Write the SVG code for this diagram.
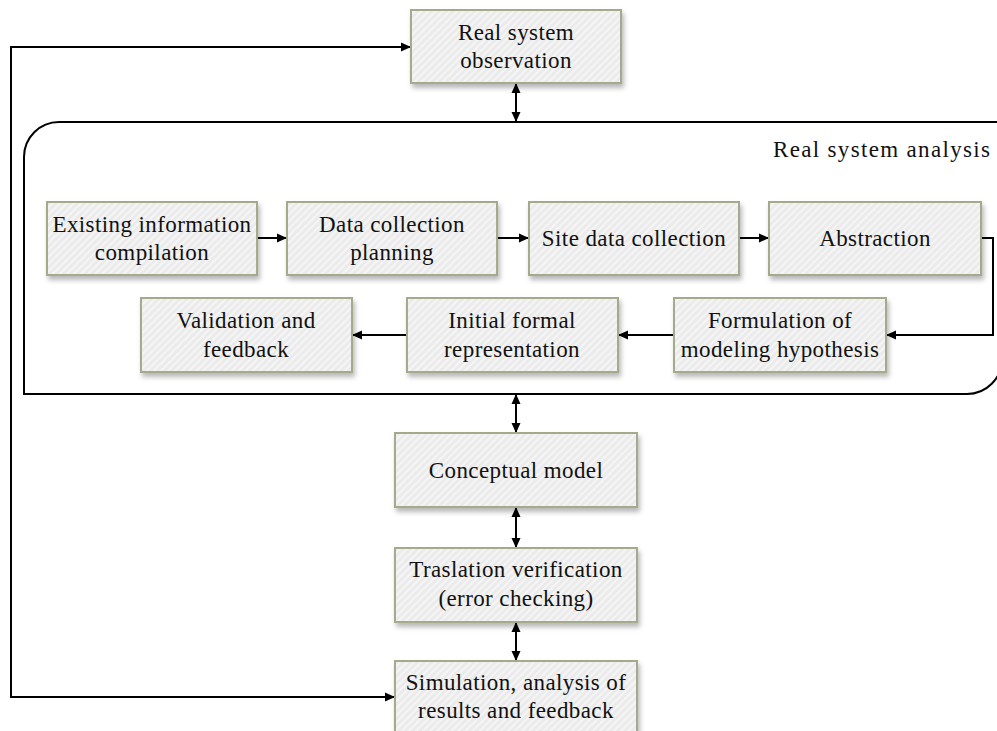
<svg xmlns="http://www.w3.org/2000/svg" width="997" height="731" viewBox="0 0 997 731">
<defs>
<pattern id="hatch" width="5" height="5" patternUnits="userSpaceOnUse" patternTransform="rotate(45)">
<rect width="5" height="5" fill="#ebebeb"/>
<rect width="2" height="5" fill="#f5f5f5"/>
</pattern>
<filter id="shadow" x="-10%" y="-10%" width="125%" height="135%">
<feDropShadow dx="2" dy="4" stdDeviation="2.5" flood-color="#000" flood-opacity="0.28"/>
</filter>
<marker id="arr" viewBox="0 0 10 10" refX="10" refY="5" markerWidth="10" markerHeight="10" markerUnits="userSpaceOnUse" orient="auto-start-reverse">
<path d="M0,0.5 L10,5 L0,9.5 Z" fill="#000"/>
</marker>
</defs>
<style>
.box{fill:url(#hatch);stroke:#a4aa8c;stroke-width:2;filter:url(#shadow)}
.t{font-family:"Liberation Serif","Times New Roman",serif;font-size:23px;fill:#111;text-anchor:middle;letter-spacing:0.4px}
.c{fill:none;stroke:#000;stroke-width:2}
.ca{fill:none;stroke:#000;stroke-width:2;marker-end:url(#arr)}
.cb{fill:none;stroke:#000;stroke-width:2;marker-start:url(#arr);marker-end:url(#arr)}
</style>

<g id="container">
<path d="M24,394 V157 A35,35 0 0 1 59,122 H1002 V359 A35,35 0 0 1 967,394 Z" fill="none" stroke="#000" stroke-width="2"/>
<text x="990" y="157" class="t" style="text-anchor:end;letter-spacing:0" textLength="217" lengthAdjust="spacing">Real system analysis</text>
</g>

<g id="connectors">
<path class="cb" d="M395,697 H11 V47 H411"/>
<path class="cb" d="M516,83 V122"/>
<path class="cb" d="M516,394 V433"/>
<path class="cb" d="M516,507 V548"/>
<path class="cb" d="M516,622 V661"/>
<path class="ca" d="M257,238 H287"/>
<path class="ca" d="M497,238 H529"/>
<path class="ca" d="M739,238 H769"/>
<path class="ca" d="M981,238 H993 V335 H886"/>
<path class="ca" d="M674,335 H618"/>
<path class="ca" d="M407,335 H352"/>
</g>

<g id="real-system-observation">
<rect class="box" x="411" y="10" width="210" height="73"/>
<text class="t" x="516" y="40">Real system</text>
<text class="t" x="516" y="68">observation</text>
</g>

<g id="existing-information">
<rect class="box" x="47" y="202" width="210" height="73"/>
<text class="t" x="152" y="232">Existing information</text>
<text class="t" x="152" y="260">compilation</text>
</g>

<g id="data-collection-planning">
<rect class="box" x="287" y="202" width="210" height="73"/>
<text class="t" x="392" y="232">Data collection</text>
<text class="t" x="392" y="260">planning</text>
</g>

<g id="site-data-collection">
<rect class="box" x="529" y="202" width="210" height="73"/>
<text class="t" x="634" y="246">Site data collection</text>
</g>

<g id="abstraction">
<rect class="box" x="769" y="202" width="212" height="73"/>
<text class="t" x="875" y="246">Abstraction</text>
</g>

<g id="formulation">
<rect class="box" x="674" y="298" width="212" height="74"/>
<text class="t" x="780" y="328">Formulation of</text>
<text class="t" x="780" y="357">modeling hypothesis</text>
</g>

<g id="initial-formal-representation">
<rect class="box" x="407" y="298" width="211" height="74"/>
<text class="t" x="512" y="328">Initial formal</text>
<text class="t" x="512" y="357">representation</text>
</g>

<g id="validation-feedback">
<rect class="box" x="141" y="298" width="211" height="74"/>
<text class="t" x="246" y="328">Validation and</text>
<text class="t" x="246" y="357">feedback</text>
</g>

<g id="conceptual-model">
<rect class="box" x="395" y="433" width="242" height="74"/>
<text class="t" x="516" y="478">Conceptual model</text>
</g>

<g id="traslation-verification">
<rect class="box" x="395" y="548" width="242" height="74"/>
<text class="t" x="516" y="577">Traslation verification</text>
<text class="t" x="516" y="606">(error checking)</text>
</g>

<g id="simulation">
<rect class="box" x="395" y="661" width="242" height="74"/>
<text class="t" x="516" y="690">Simulation, analysis of</text>
<text class="t" x="516" y="718">results and feedback</text>
</g>
</svg>
